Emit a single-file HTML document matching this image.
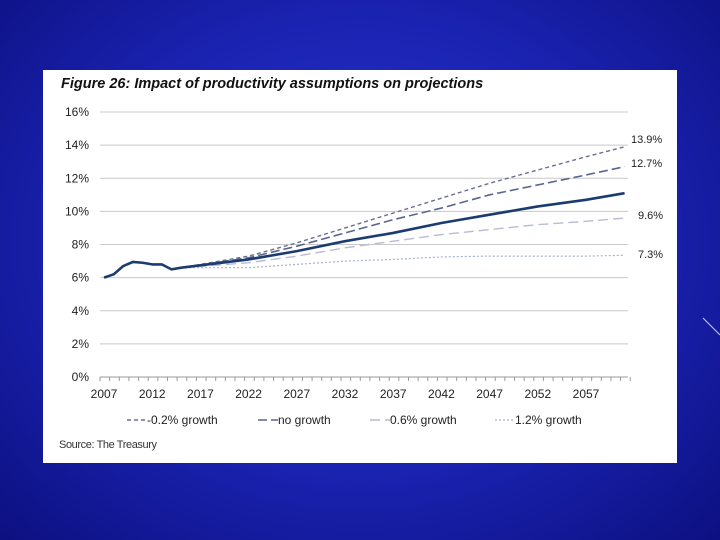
<!DOCTYPE html>
<html><head><meta charset="utf-8"><style>
body{margin:0;width:720px;height:540px;overflow:hidden;background:radial-gradient(ellipse at 50% 45%,#2838d0 0%,#1a22b0 55%,#0c1080 100%);font-family:"Liberation Sans",sans-serif;position:relative}
#panel{position:absolute;left:43px;top:70px;width:634px;height:393px;background:#fff}
</style></head><body>
<svg width="720" height="540" style="position:absolute;left:0;top:0"><line x1="703" y1="318" x2="720" y2="335" stroke="#c8d0ff" stroke-width="1"/></svg>
<div id="panel"></div>
<svg id="chart" width="720" height="540" style="position:absolute;left:0;top:0">
<text x="61" y="88" font-size="14.5" font-weight="bold" font-style="italic" fill="#111">Figure 26: Impact of productivity assumptions on projections</text>
<text x="59" y="448" font-size="11" fill="#333" textLength="98">Source: The Treasury</text>
</svg>
<script>
const yTicks=[0,2,4,6,8,10,12,14,16];
const xTickYears=[2007,2012,2017,2022,2027,2032,2037,2042,2047,2052,2057];
const histYears=[2007,2008,2009,2010,2011,2012,2013,2014,2015];
const histVals=[6.0,6.2,6.7,6.95,6.9,6.8,6.8,6.5,6.6];
const projYears=[2015,2022,2027,2032,2037,2042,2047,2052,2057,2061];
const baseVals=[6.6,7.1,7.6,8.2,8.7,9.3,9.8,10.3,10.7,11.1];
const negVals=[6.6,7.3,8.1,9.0,9.9,10.8,11.7,12.5,13.3,13.9];
const zeroVals=[6.6,7.2,7.9,8.7,9.5,10.2,11.0,11.6,12.2,12.7];
const sixVals=[6.6,6.9,7.3,7.8,8.2,8.6,8.9,9.2,9.4,9.6];
const twelveVals=[6.6,6.6,6.8,7.0,7.1,7.25,7.3,7.3,7.3,7.35];
const endLabels=["13.9%","12.7%","9.6%","7.3%"];
const legendLabels=["-0.2% growth","no growth","0.6% growth","1.2% growth"];

const NS="http://www.w3.org/2000/svg";
const svg=document.getElementById('chart');
const X=y=>104+(y-2007)*9.64;
const Y=v=>377-v*16.56;
function mk(t,a){const e=document.createElementNS(NS,t);for(const k in a)e.setAttribute(k,a[k]);svg.appendChild(e);return e;}
yTicks.forEach(v=>{
  const g=mk('line',{x1:100,x2:628,y1:Y(v),y2:Y(v),stroke:v===0?'#999':'#c8c8c8','stroke-width':1});
  
  
  const t=mk('text',{x:89,y:Y(v)+4,'font-size':12,'text-anchor':'end',fill:'#222'});
  t.textContent=v+'%';
  
  
});
for(let yr=2007;yr<=2062;yr++){
  const tk=mk('line',{x1:X(yr)-4,x2:X(yr)-4,y1:377,y2:381,stroke:'#999'});
  
  
}
xTickYears.forEach(yr=>{
  const t=mk('text',{x:X(yr),y:398,'font-size':12,'text-anchor':'middle',fill:'#222'});
  t.textContent=yr;
  
  
});
function line(xs,vs,style,name){
  const p=mk('polyline',Object.assign({points:xs.map((x,i)=>X(x)+','+Y(vs[i])).join(' '),fill:'none'},style));
  
  
}
const styles=[
 {stroke:'#6a6f90','stroke-width':1.4,'stroke-dasharray':'4,3'},
 {stroke:'#5a6590','stroke-width':1.6,'stroke-dasharray':'9,4'},
 {stroke:'#b8bcd4','stroke-width':1.4,'stroke-dasharray':'10,5'},
 {stroke:'#a8b0d0','stroke-width':1.2,'stroke-dasharray':'2,2'}];
const series=[negVals,zeroVals,sixVals,twelveVals];
const names=['series-minus-0-2-growth','series-no-growth','series-0-6-growth','series-1-2-growth'];
series.forEach((s,i)=>line(projYears,s,styles[i],names[i]));
line(histYears.concat(projYears.slice(1)),histVals.concat(baseVals.slice(1)),{stroke:'#1c3c70','stroke-width':2.6,'stroke-linejoin':'round'},'series-baseline');
const lblY=[143,167,219,258];
endLabels.forEach((l,i)=>{
  const t=mk('text',{x:i<2?631:638,y:lblY[i],'font-size':11,fill:'#222'});
  t.textContent=l;
  
  
});
const lx=[127,258,370,495];
legendLabels.forEach((l,i)=>{
  const ln=mk('line',Object.assign({x1:lx[i],x2:lx[i]+20,y1:420,y2:420},styles[i]));
  
  
  const t=mk('text',{x:lx[i]+20,y:424,'font-size':12,fill:'#222'});
  t.textContent=l;
  
  
});
</script>
</body></html>
